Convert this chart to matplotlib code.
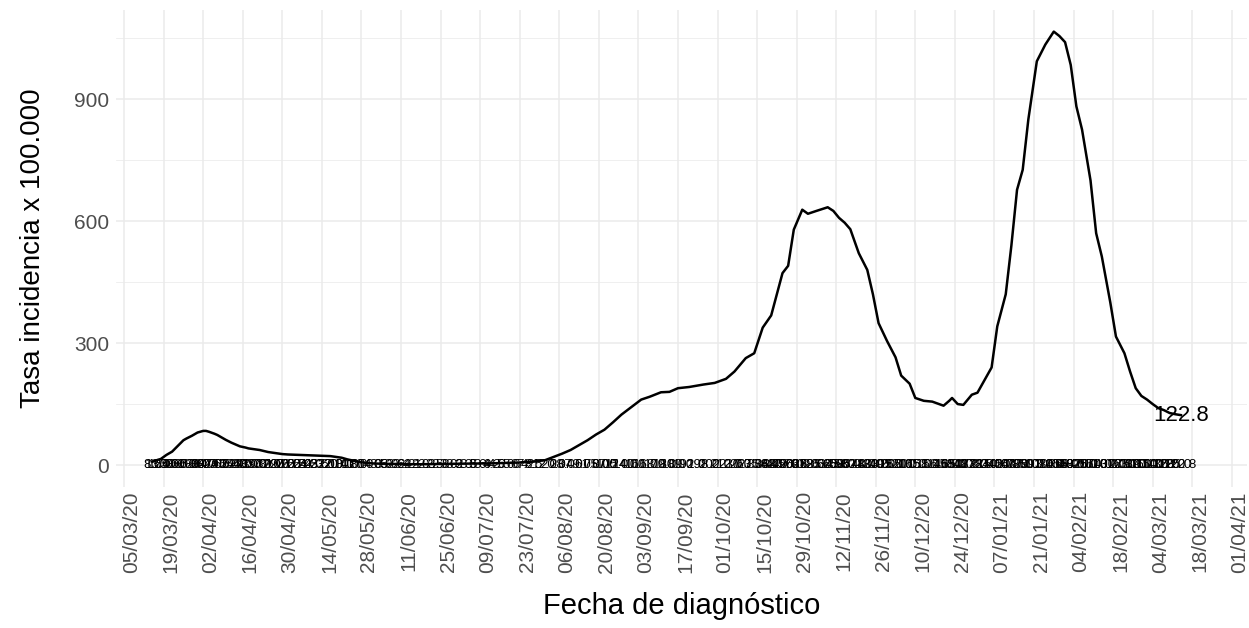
import numpy as np
import pandas as pd
import matplotlib
matplotlib.use("Agg")
import matplotlib.pyplot as plt
import matplotlib.dates as mdates
import matplotlib.transforms as mtransforms

plt.rcParams['font.family'] = ['Liberation Sans', 'DejaVu Sans']

# datos (tasa de incidencia x 100.000)
fechas = [
    "2020-03-15", "2020-03-17", "2020-03-18", "2020-03-20", "2020-03-22", "2020-03-23",
    "2020-03-26", "2020-03-27", "2020-03-29", "2020-03-31", "2020-04-02", "2020-04-03",
    "2020-04-04", "2020-04-06", "2020-04-07", "2020-04-10", "2020-04-12", "2020-04-13",
    "2020-04-15", "2020-04-17", "2020-04-18", "2020-04-20", "2020-04-22", "2020-04-25",
    "2020-04-26", "2020-04-28", "2020-04-30", "2020-05-02", "2020-05-04", "2020-05-06",
    "2020-05-08", "2020-05-10", "2020-05-12", "2020-05-14", "2020-05-17", "2020-05-19",
    "2020-05-21", "2020-05-23", "2020-05-25", "2020-05-27", "2020-05-29", "2020-06-01",
    "2020-06-03", "2020-06-05", "2020-06-07", "2020-06-09", "2020-06-11", "2020-06-13",
    "2020-06-15", "2020-06-18", "2020-06-20", "2020-06-23", "2020-06-25", "2020-06-28",
    "2020-06-30", "2020-07-03", "2020-07-05", "2020-07-08", "2020-07-10", "2020-07-13",
    "2020-07-15", "2020-07-18", "2020-07-20", "2020-07-23", "2020-07-25", "2020-07-28",
    "2020-08-01", "2020-08-04", "2020-08-07", "2020-08-10", "2020-08-13", "2020-08-16",
    "2020-08-19", "2020-08-22", "2020-08-25", "2020-08-28", "2020-08-31", "2020-09-04",
    "2020-09-07", "2020-09-11", "2020-09-14", "2020-09-17", "2020-09-21", "2020-09-26",
    "2020-09-30", "2020-10-04", "2020-10-07", "2020-10-11", "2020-10-14", "2020-10-17",
    "2020-10-20", "2020-10-22", "2020-10-24", "2020-10-26", "2020-10-28", "2020-10-31",
    "2020-11-02", "2020-11-05", "2020-11-09", "2020-11-11", "2020-11-13", "2020-11-15",
    "2020-11-17", "2020-11-20", "2020-11-23", "2020-11-25", "2020-11-27", "2020-11-30",
    "2020-12-03", "2020-12-05", "2020-12-08", "2020-12-10", "2020-12-13", "2020-12-16",
    "2020-12-20", "2020-12-22", "2020-12-23", "2020-12-25", "2020-12-27", "2020-12-30",
    "2021-01-01", "2021-01-04", "2021-01-06", "2021-01-08", "2021-01-11", "2021-01-13",
    "2021-01-15", "2021-01-17", "2021-01-19", "2021-01-22", "2021-01-25", "2021-01-28",
    "2021-01-30", "2021-02-01", "2021-02-03", "2021-02-05", "2021-02-07", "2021-02-10",
    "2021-02-12", "2021-02-14", "2021-02-17", "2021-02-19", "2021-02-22", "2021-02-24",
    "2021-02-26", "2021-02-28", "2021-03-02", "2021-03-04", "2021-03-06", "2021-03-08",
    "2021-03-10", "2021-03-12", "2021-03-14",
]
tasa = [
    8, 13, 15, 25, 33, 40,
    61, 65, 72, 80, 84, 84,
    82, 77, 74, 62, 55, 52,
    46, 43, 41, 39, 37, 32,
    31, 29, 27, 26, 25.5, 25,
    24.5, 24, 23.5, 23, 22, 20,
    18, 14, 11, 8, 6, 4,
    3.5, 3, 3, 2.6, 2.4, 2.2,
    2.1, 2, 2.3, 2.5, 2.8, 3,
    3.2, 3.3, 3.5, 3.6, 3.9, 4.2,
    4.6, 5, 5.6, 6.4, 7.2, 8.5,
    12, 20, 28, 37, 49, 61,
    75, 87, 105, 124, 140, 161,
    168, 179, 180, 189, 192, 198,
    202, 212, 230, 263, 275, 338,
    368, 420, 472, 490, 579, 628,
    618, 625, 634, 625, 608, 596,
    580, 521, 480, 420, 349, 305,
    265, 220, 200, 165, 158, 156,
    146, 158, 165, 150, 148, 173,
    178, 215, 240, 341, 420, 540,
    677, 726, 850, 993, 1034, 1066,
    1055, 1040, 984, 882, 825, 700,
    570, 513, 400, 316, 275, 230,
    189, 170, 161, 150, 140, 135,
    128, 125, 122.8,
]
etiquetas = ["%.1f" % v for v in tasa]

fechas = pd.to_datetime(fechas)
inicio = pd.Timestamp("2020-03-05")
ticks = pd.date_range("2020-03-05", "2021-04-01", freq="14D")

fig = plt.figure(figsize=(12.49, 6.28), dpi=100)
ax = fig.add_axes([0.093, 0.2245, 0.905, 0.7595])

grid = '#EBEBEB'
for t in ticks:
    ax.axvline(t, color=grid, lw=1.1, zorder=0)
for y in [0, 300, 600, 900]:
    ax.axhline(y, color=grid, lw=1.1, zorder=0)
for y in [150, 450, 750, 1050]:
    ax.axhline(y, color=grid, lw=0.55, zorder=0)

ax.plot(fechas, tasa, color='black', lw=1.8, zorder=3)

# etiquetas de valores en y = 0
for f, e in zip(fechas, etiquetas):
    ax.text(f, 0, e, fontsize=9.5, ha='center', va='center', color='black', zorder=4)
ax.text(fechas[-1], tasa[-1], "122.8", fontsize=16, ha='center', va='center',
        color='black', zorder=4)

ax.set_xlim(inicio - pd.Timedelta(days=2.8), inicio + pd.Timedelta(days=397.2))
ax.set_ylim(-54, 1119)
ax.set_yticks([0, 300, 600, 900])
ax.set_xticks(ticks)
ax.xaxis.set_major_formatter(mdates.DateFormatter("%d/%m/%y"))
ax.tick_params(length=0, labelsize=15, labelcolor='#4D4D4D')
ax.tick_params(axis='y', pad=5)
ax.tick_params(axis='x', pad=3)
for lab in ax.get_xticklabels():
    lab.set_rotation(90)
    lab.set_ha('left')
    lab.set_va('top')
offset = mtransforms.ScaledTranslation(-2 / 100, 0, fig.dpi_scale_trans)
for lab in ax.get_xticklabels():
    lab.set_transform(lab.get_transform() + offset)

for s in ax.spines.values():
    s.set_visible(False)

ax.set_xlabel("Fecha de diagnóstico", fontsize=21, labelpad=14)
ax.set_ylabel("Tasa incidencia x 100.000", fontsize=20, labelpad=20)

fig.savefig("out.png", dpi=100, facecolor='white')
